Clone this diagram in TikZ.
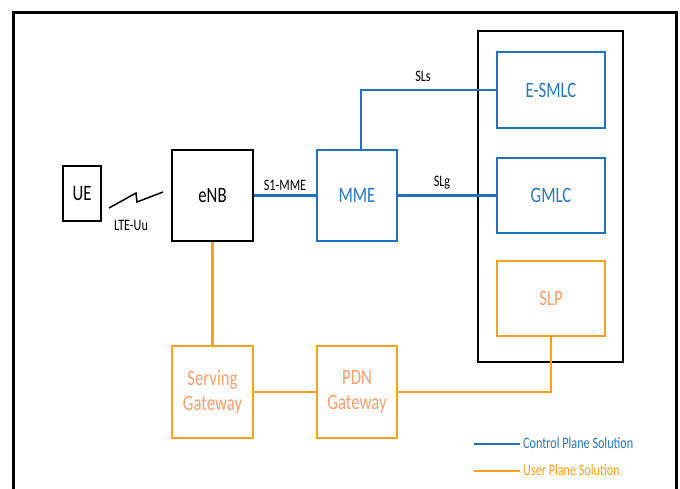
\documentclass[tikz,border=0pt]{standalone}
\usepackage{fontspec}
\setmainfont{Carlito}[FakeStretch=0.76]
\definecolor{cpblue}{RGB}{30,114,192}
\definecolor{cptext}{RGB}{46,117,182}
\definecolor{uporange}{RGB}{252,160,30}
\definecolor{uptext}{RGB}{248,160,112}
\tikzset{
  box/.style={draw, line width=2.3pt, inner sep=0pt, font=\fontsize{22}{25}\selectfont, align=center},
  blackbox/.style={box, draw=black, text=black},
  bluebox/.style={box, draw=cpblue, text=cptext},
  orangebox/.style={box, draw=uporange, text=uptext},
  bluelink/.style={draw=cpblue, line width=2.3pt},
  orangelink/.style={draw=uporange, line width=2.3pt},
  lbl/.style={font=\fontsize{16}{18}\selectfont, text=black, inner sep=0pt},
  legendtxt/.style={font=\fontsize{16}{18}\selectfont, inner sep=0pt, anchor=west}
}
\begin{document}
\begin{tikzpicture}[x=1pt,y=-1pt]
\useasboundingbox (0,0) rectangle (680,488);
\clip (0,0) rectangle (680,488);
\fill[white] (0,0) rectangle (680,488);
% outer frame (bottom edge out of view)
\draw[line width=3pt] (13,495) -- (13,12) -- (676,12) -- (676,495);
% container
\node[draw=black, line width=2.3pt, minimum width=145pt, minimum height=331pt, inner sep=0pt] (cont) at (550.5,196.5) {};
% nodes
\node[blackbox, minimum width=38pt, minimum height=55pt] (ue) at (82,193.5) {UE};
\node[blackbox, minimum width=81pt, minimum height=91pt] (enb) at (212.5,195.5) {eNB};
\node[bluebox, minimum width=80pt, minimum height=91pt] (mme) at (357,195.5) {MME};
\node[bluebox, minimum width=108pt, minimum height=76pt] (esmlc) at (551,90) {E-SMLC};
\node[bluebox, minimum width=108pt, minimum height=75pt] (gmlc) at (551,195.5) {GMLC};
\node[orangebox, minimum width=108pt, minimum height=75pt] (slp) at (551,298.5) {SLP};
\node[orangebox, minimum width=81pt, minimum height=92pt] (sgw) at (212.5,392) {Serving\\Gateway};
\node[orangebox, minimum width=80pt, minimum height=92pt] (pdn) at (357,392) {PDN\\Gateway};
% radio link
\coordinate (z1) at (109,208);
\coordinate (z2) at (136,193);
\coordinate (z3) at (137,202);
\coordinate (z4) at (163,192);
\draw[line width=1.5pt] (z1) -- (z2) -- (z3) -- (z4);
\node[lbl] (lteuu) at (131,225) {LTE-Uu};
% control plane links
\draw[bluelink] (enb.east) -- (mme.west);
\draw[bluelink] (mme.east) -- (gmlc.west);
\draw[bluelink] ([xshift=4pt]mme.north) |- (esmlc.west);
\node[lbl] (s1) at (285,185) {S1-MME};
\node[lbl] (sls) at (423,76) {SLs};
\node[lbl] (slg) at (442,183) {SLg};
% user plane links
\draw[orangelink] (enb.south) -- (sgw.north);
\draw[orangelink] (sgw.east) -- (pdn.west);
\draw[orangelink] (pdn.east) -| (slp.south);
% legend
\coordinate (la) at (474,444);
\coordinate (lb) at (520,444);
\coordinate (lc) at (474,471);
\coordinate (ld) at (520,471);
\draw[bluelink] (la) -- (lb);
\draw[orangelink] (lc) -- (ld);
\node[legendtxt, text=cptext] (lg1) at (523,443) {Control Plane Solution};
\node[legendtxt, text=uporange] (lg2) at (523,470) {User Plane Solution};
\end{tikzpicture}
\end{document}
